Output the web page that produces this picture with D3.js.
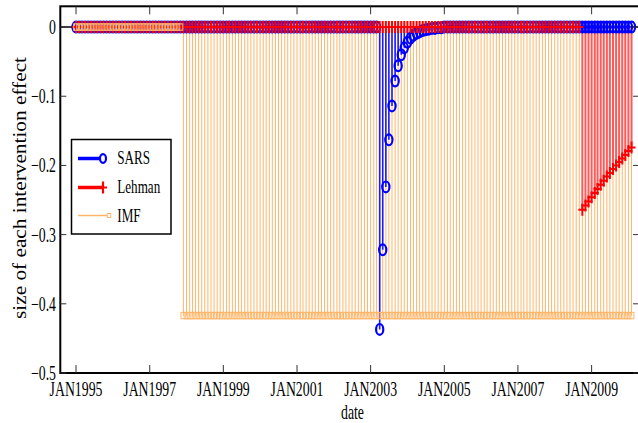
<!DOCTYPE html>
<html>
<head>
<meta charset="utf-8">
<script src="https://cdn.jsdelivr.net/npm/d3@7"></script>
<style>
  html, body { margin: 0; padding: 0; background: #fff; }
  svg { display: block; }
  text { font-family: "Liberation Serif", "Times New Roman", serif; fill: #000; }
</style>
</head>
<body>
<svg id="chart" width="638" height="423"></svg>
<script>
// Monthly observations, JAN1995 .. FEB2010
const firstMonth = new Date(1995, 0, 1);
const endMonth = new Date(2010, 2, 1);

// Intervention effects (size per month from onset)
const sarsOnset = new Date(2003, 3, 1);
const sarsEffect = [-0.437, -0.322, -0.231, -0.163, -0.114, -0.078, -0.056, -0.040,
  -0.030, -0.022, -0.016, -0.012, -0.009, -0.007, -0.005, -0.004, -0.003, -0.002,
  -0.002, -0.001, -0.001];

const lehmanOnset = new Date(2008, 9, 1);
const lehmanEffect = [-0.264, -0.258, -0.252, -0.246, -0.240, -0.234, -0.228, -0.222,
  -0.216, -0.211, -0.205, -0.200, -0.195, -0.190, -0.185, -0.179, -0.174];

const imfOnset = new Date(1997, 11, 1);
const imfLevel = -0.417;

// Axis ticks
const xTickYears = [1995, 1997, 1999, 2001, 2003, 2005, 2007, 2009];
const xTickLabels = ["JAN1995", "JAN1997", "JAN1999", "JAN2001", "JAN2003", "JAN2005", "JAN2007", "JAN2009"];
const yTicks = [0, -0.1, -0.2, -0.3, -0.4, -0.5];
const yTickLabels = ["0", "\u22120.1", "\u22120.2", "\u22120.3", "\u22120.4", "\u22120.5"];

const colors = { SARS: "#0000ff", Lehman: "#ff0000", IMF: "#ffb66a" };
const stemColors = { SARS: "#1a1aff", Lehman: "#ff5a5a", IMF: "#ffb66a" };

// ---- build monthly series ----
const months = d3.timeMonth.range(firstMonth, endMonth);
const monthIndex = d => d3.timeMonth.count(firstMonth, d);

function pulseSeries(onset, effect) {
  const k0 = monthIndex(onset);
  return months.map((d, i) => {
    const k = i - k0;
    return { date: d, value: (k >= 0 && k < effect.length) ? effect[k] : 0 };
  });
}
const sars = pulseSeries(sarsOnset, sarsEffect);
const lehman = pulseSeries(lehmanOnset, lehmanEffect);
const imf = months.map(d => ({ date: d, value: d >= imfOnset ? imfLevel : 0 }));

// ---- layout ----
const svg = d3.select("#chart");
const plot = { left: 60.3, right: 639, top: 6.3, bottom: 373 };

const x = d3.scaleTime()
  .domain([new Date(1994, 6, 29), new Date(2010, 3, 16)])
  .range([plot.left, plot.right]);
const y = d3.scaleLinear()
  .domain([-0.5, 0.03])
  .range([plot.bottom, plot.top]);

const SX = 0.69; // narrow serif glyphs
function label(g, px, py, str, size, anchor, dy) {
  return g.append("text")
    .attr("transform", `translate(${px},${py}) scale(${SX},1)`)
    .attr("text-anchor", anchor)
    .attr("dy", dy || 0)
    .attr("font-size", size)
    .text(str);
}

const clipId = "plotclip";
svg.append("clipPath").attr("id", clipId)
  .append("rect").attr("x", plot.left).attr("y", plot.top)
  .attr("width", plot.right - plot.left).attr("height", plot.bottom - plot.top);

const gPlot = svg.append("g").attr("clip-path", `url(#${clipId})`);

// stem baseline
gPlot.append("line")
  .attr("x1", plot.left).attr("x2", plot.right)
  .attr("y1", y(0)).attr("y2", y(0))
  .attr("stroke", "#000").attr("stroke-width", 1.5);

// stems
function stems(data, color, width) {
  gPlot.append("g").selectAll("line")
    .data(data.filter(d => d.value !== 0))
    .join("line")
    .attr("x1", d => x(d.date)).attr("x2", d => x(d.date))
    .attr("y1", y(0)).attr("y2", d => y(d.value))
    .attr("stroke", color).attr("stroke-width", width);
}
stems(imf, stemColors.IMF, 1);
stems(lehman, stemColors.Lehman, 2);
stems(sars, stemColors.SARS, 1.6);

// markers
gPlot.append("g").selectAll("ellipse")
  .data(sars).join("ellipse")
  .attr("cx", d => x(d.date)).attr("cy", d => y(d.value))
  .attr("rx", 3.6).attr("ry", 5.4)
  .attr("fill", "none").attr("stroke", colors.SARS).attr("stroke-width", 2.2);

gPlot.append("g").selectAll("path")
  .data(lehman).join("path")
  .attr("d", d => {
    const cx = x(d.date), cy = y(d.value);
    return `M${cx - 4},${cy}H${cx + 4}M${cx},${cy - 6}V${cy + 6}`;
  })
  .attr("fill", "none").attr("stroke", colors.Lehman).attr("stroke-width", 2);

gPlot.append("g").selectAll("rect")
  .data(imf).join("rect")
  .attr("x", d => x(d.date) - 2.4).attr("y", d => y(d.value) - 3.2)
  .attr("width", 4.8).attr("height", 6.4)
  .attr("fill", "none").attr("stroke", colors.IMF).attr("stroke-width", 1);

// ---- axes box and ticks ----
const gAxes = svg.append("g");
gAxes.append("rect")
  .attr("x", plot.left).attr("y", plot.top)
  .attr("width", plot.right - plot.left).attr("height", plot.bottom - plot.top)
  .attr("fill", "none").attr("stroke", "#000").attr("stroke-width", 2);

xTickYears.forEach((yr, i) => {
  const px = x(new Date(yr, 0, 1));
  gAxes.append("line").attr("x1", px).attr("x2", px)
    .attr("y1", plot.bottom).attr("y2", plot.bottom - 8)
    .attr("stroke", "#333").attr("stroke-width", 1);
  gAxes.append("line").attr("x1", px).attr("x2", px)
    .attr("y1", plot.top).attr("y2", plot.top + 8)
    .attr("stroke", "#333").attr("stroke-width", 1);
  label(gAxes, px, 396, xTickLabels[i], 20, "middle");
});

yTicks.forEach((v, i) => {
  const py = y(v);
  gAxes.append("line").attr("x1", plot.left).attr("x2", plot.left + 6)
    .attr("y1", py).attr("y2", py).attr("stroke", "#333").attr("stroke-width", 1);
  gAxes.append("line").attr("x1", plot.right).attr("x2", plot.right - 6)
    .attr("y1", py).attr("y2", py).attr("stroke", "#333").attr("stroke-width", 1);
  label(gAxes, 56, py, yTickLabels[i], 20, "end", "0.35em");
});

// axis titles
label(svg, 352.5, 418.5, "date", 20, "middle");
svg.append("text")
  .attr("transform", "translate(25.5,188) rotate(-90)")
  .attr("text-anchor", "middle")
  .attr("font-size", 19)
  .attr("textLength", 262)
  .attr("lengthAdjust", "spacingAndGlyphs")
  .text("size of each intervention effect");

// ---- legend ----
const gLeg = svg.append("g");
gLeg.append("rect")
  .attr("x", 71.5).attr("y", 139.5).attr("width", 99.5).attr("height", 94.5)
  .attr("fill", "#fff").attr("stroke", "#000").attr("stroke-width", 1.5);

const legRows = [
  { name: "SARS", ly: 158.5, ty: 164, x2: 100, lw: 3.5 },
  { name: "Lehman", ly: 187.5, ty: 193, x2: 104, lw: 3.5 },
  { name: "IMF", ly: 215.5, ty: 222, x2: 107, lw: 1.5 }
];
legRows.forEach(r => {
  const c = colors[r.name];
  gLeg.append("line").attr("x1", 78).attr("x2", r.x2)
    .attr("y1", r.ly).attr("y2", r.ly)
    .attr("stroke", c).attr("stroke-width", r.lw);
  if (r.name === "SARS") {
    gLeg.append("ellipse").attr("cx", 103).attr("cy", r.ly)
      .attr("rx", 3).attr("ry", 4.3)
      .attr("fill", "none").attr("stroke", c).attr("stroke-width", 2.2);
  } else if (r.name === "Lehman") {
    gLeg.append("path")
      .attr("d", `M${99},${r.ly}H${107}M${103},${r.ly - 6}V${r.ly + 6}`)
      .attr("stroke", c).attr("stroke-width", 2.2);
  } else {
    gLeg.append("rect").attr("x", 107.3).attr("y", r.ly - 2)
      .attr("width", 3.4).attr("height", 4)
      .attr("fill", "none").attr("stroke", c).attr("stroke-width", 1);
  }
  label(gLeg, 117.3, r.ty, r.name, 19, "start");
});
</script>
</body>
</html>
